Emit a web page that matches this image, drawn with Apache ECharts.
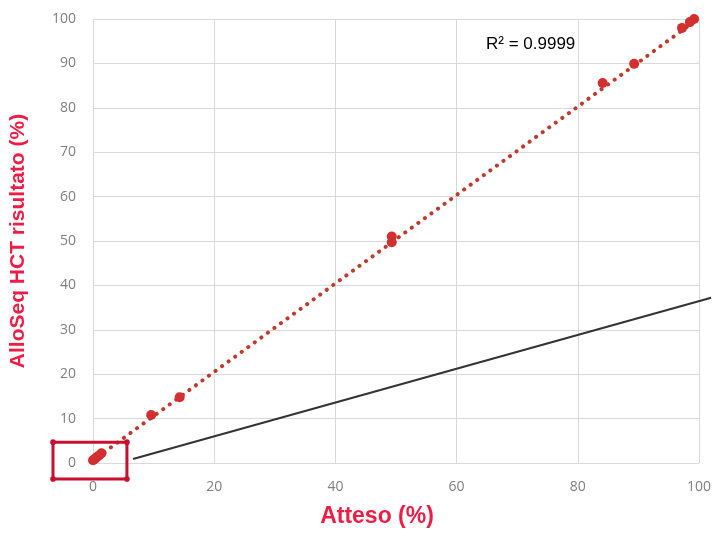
<!DOCTYPE html>
<html><head><meta charset="utf-8">
<script src="https://cdn.jsdelivr.net/npm/echarts@6/dist/echarts.min.js"></script>
<style>html,body{margin:0;padding:0;background:#fff}#c{width:714px;height:534px}</style>
</head><body><div id="c"></div>
<script>
const expected = [0, 0.3, 0.6, 1.0, 1.4, 9.6, 14.3, 49.3, 49.3, 84.1, 89.3, 97.2, 98.5, 99.2];
const measured = [0.6, 0.9, 1.3, 1.7, 2.2, 10.8, 14.8, 51.0, 49.7, 85.6, 89.9, 98.0, 99.3, 100.0];
const trendX = [-0.3, 100];
const trendY = [0.3, 100.2];
const boxX = [-6.6, 5.6, 5.6, -6.6, -6.6];
const boxY = [4.7, 4.7, -3.6, -3.6, 4.7];
const zoomLineX = [6.6, 102];
const zoomLineY = [0.9, 37.2];
const xTicks = [0, 20, 40, 60, 80, 100];
const yTicks = [0, 10, 20, 30, 40, 50, 60, 70, 80, 90, 100];
const r2Label = 'R² = 0.9999';

const zip = (a, b) => a.map((v, i) => [v, b[i]]);

function polySeries(xs, ys, style, withDots, z) {
  return {
    type: 'custom', clip: false, z: z,
    data: [[xs[0], ys[0]]],
    renderItem: function (params, api) {
      const pts = xs.map((x, i) => api.coord([x, ys[i]]));
      const children = [{
        type: 'polyline', shape: {points: pts},
        style: Object.assign({fill: null}, style)
      }];
      if (withDots) {
        pts.slice(0, pts.length - 1).forEach(p => children.push({
          type: 'circle', shape: {cx: p[0], cy: p[1], r: 2.8},
          style: {fill: style.stroke}
        }));
      }
      return {type: 'group', children: children};
    }
  };
}

const chart = echarts.init(document.getElementById('c'));
chart.setOption({
  animation: false,
  grid: {left: 92, right: 12, top: 19, bottom: 71},
  xAxis: {
    type: 'value', min: xTicks[0], max: xTicks[xTicks.length - 1], interval: 20,
    name: 'Atteso (%)', nameLocation: 'middle', nameGap: 42,
    nameTextStyle: {color: '#ee1d45', fontSize: 23, fontWeight: 'bold', fontFamily: 'Liberation Sans', padding: [0, 38, 0, 0]},
    axisLine: {show: false}, axisTick: {show: false},
    axisLabel: {color: '#7f7f7f', fontSize: 14, margin: 17, fontFamily: 'Open Sans'},
    splitLine: {lineStyle: {color: '#d9d9d9', width: 1}}
  },
  yAxis: {
    type: 'value', min: yTicks[0], max: yTicks[yTicks.length - 1], interval: 10,
    name: 'AlloSeq HCT risultato (%)', nameLocation: 'middle', nameGap: 64,
    nameTextStyle: {color: '#ee1d45', fontSize: 21, fontWeight: 'bold', fontFamily: 'Liberation Sans'},
    axisLine: {show: false}, axisTick: {show: false},
    axisLabel: {color: '#7f7f7f', fontSize: 14, margin: 17, fontFamily: 'Open Sans'},
    splitLine: {lineStyle: {color: '#d9d9d9', width: 1}}
  },
  graphic: [{
    type: 'text', left: 486, top: 36,
    style: {text: r2Label, fontSize: 17, fill: '#000', fontFamily: 'Liberation Sans'}
  }],
  series: [
    polySeries(zoomLineX, zoomLineY, {stroke: '#333333', lineWidth: 2}, false, 1),
    {
      type: 'line', data: zip(trendX, trendY), symbol: 'none', clip: false,
      lineStyle: {color: '#c0392b', width: 4, type: [0.1, 8], cap: 'round'}, z: 2
    },
    {
      type: 'scatter', data: zip(expected, measured), symbolSize: 10, clip: false,
      itemStyle: {color: '#d32f2f', opacity: 1}, z: 3
    },
    polySeries(boxX, boxY, {stroke: '#c8102e', lineWidth: 3}, true, 4)
  ]
});
</script></body></html>
